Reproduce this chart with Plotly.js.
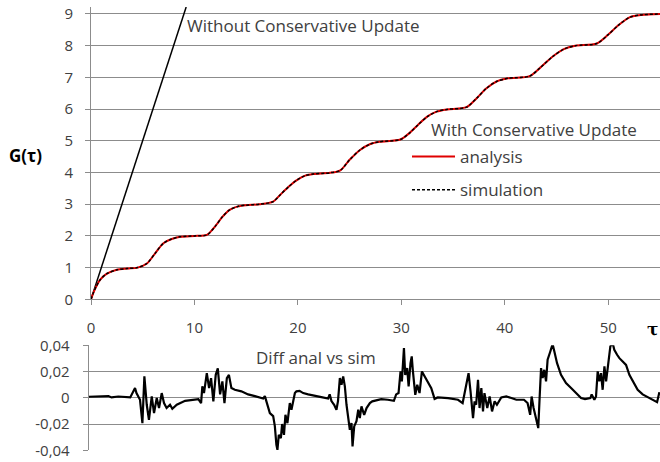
<!DOCTYPE html>
<html>
<head>
<meta charset="utf-8">
<script src="https://cdn.plot.ly/plotly-3.0.1.min.js"></script>
<style>html,body{margin:0;padding:0;background:#fff;}#chart{width:660px;height:462px;}</style>
</head>
<body>
<div id="chart"></div>
<script>
// Without conservative update (straight line)
const tauWithout = [0, 9.2];
const gWithout = [0, 9.22];

// With conservative update: analysis / simulation (indistinguishable at this scale)
const tauCU = [0, 0.2, 0.5, 0.87, 1.5, 2.5, 3.5, 4.5, 5.4, 6.2, 7.0, 7.8, 8.6, 10.0, 11.2, 12.0, 12.7, 13.4, 14.2, 15.0, 16.3, 17.6, 18.3, 19.1, 19.9, 20.7, 21.5, 23.1, 24.1, 25.0, 26.0, 27.0, 27.9, 29.9, 30.8, 31.6, 32.5, 33.4, 34.4, 36.3, 37.3, 38.2, 39.2, 40.3, 42.4, 43.4, 44.6, 45.7, 46.8, 48.9, 50.0, 51.0, 52.1, 53.2, 55.0];
const gAnalysis = [0, 0.18, 0.4, 0.61, 0.8, 0.93, 0.97, 1.0, 1.13, 1.45, 1.77, 1.9, 1.97, 2.0, 2.03, 2.3, 2.6, 2.82, 2.93, 2.97, 3.0, 3.08, 3.3, 3.55, 3.76, 3.9, 3.95, 3.99, 4.07, 4.4, 4.71, 4.9, 4.97, 5.04, 5.25, 5.5, 5.76, 5.92, 5.99, 6.06, 6.35, 6.65, 6.87, 6.97, 7.04, 7.3, 7.65, 7.89, 8.0, 8.07, 8.35, 8.65, 8.9, 8.97, 9.0];
const gSimulation = [0, 0.18, 0.4, 0.61, 0.8, 0.93, 0.97, 1.0, 1.13, 1.45, 1.77, 1.9, 1.97, 2.0, 2.03, 2.3, 2.6, 2.82, 2.93, 2.97, 3.0, 3.08, 3.3, 3.55, 3.76, 3.9, 3.95, 3.99, 4.07, 4.4, 4.71, 4.9, 4.97, 5.04, 5.25, 5.5, 5.76, 5.92, 5.99, 6.06, 6.35, 6.65, 6.87, 6.97, 7.04, 7.3, 7.65, 7.89, 8.0, 8.07, 8.35, 8.65, 8.9, 8.97, 9.0];

// Difference analysis vs simulation
const tauDiff = [0.0, 0.9, 1.9, 2.2, 2.85, 4.0, 4.3, 4.46, 4.6, 4.94, 5.17, 5.36, 5.59, 5.8, 6.07, 6.29, 6.55, 6.77, 7.03, 7.25, 7.5, 7.83, 8.05, 8.48, 9.28, 10.56, 10.82, 10.94, 11.1, 11.37, 11.59, 11.78, 12.0, 12.23, 12.43, 12.65, 12.87, 13.07, 13.3, 13.5, 13.74, 14.07, 14.7, 15.35, 16.0, 16.8, 16.96, 17.2, 17.44, 17.76, 17.92, 18.07, 18.17, 18.3, 18.5, 18.62, 18.8, 18.94, 19.13, 19.36, 19.52, 19.85, 20.0, 20.3, 20.65, 21.13, 21.77, 22.4, 23.05, 23.2, 23.37, 23.63, 23.85, 24.0, 24.18, 24.34, 24.5, 24.66, 24.82, 24.98, 25.14, 25.3, 25.4, 25.56, 25.78, 25.95, 26.1, 26.26, 26.52, 26.75, 27.07, 27.3, 27.5, 28.16, 28.8, 29.38, 29.6, 29.83, 30.02, 30.15, 30.35, 30.47, 30.66, 30.8, 30.98, 31.1, 31.2, 31.44, 31.63, 31.85, 32.08, 32.27, 32.66, 32.98, 33.3, 33.6, 34.6, 35.55, 36.0, 36.35, 36.57, 36.76, 37.0, 37.15, 37.3, 37.48, 37.63, 37.8, 37.96, 38.1, 38.37, 38.6, 38.83, 39.08, 39.3, 39.72, 40.2, 40.69, 41.17, 41.9, 42.25, 42.5, 42.64, 42.83, 43.06, 43.28, 43.41, 43.55, 43.7, 43.86, 44.03, 44.18, 44.44, 44.66, 44.83, 45.09, 45.47, 45.95, 46.44, 46.92, 47.4, 47.78, 48.3, 48.42, 48.68, 48.84, 49.0, 49.16, 49.32, 49.48, 49.65, 49.81, 50.03, 50.22, 50.44, 50.6, 50.87, 51.09, 51.41, 51.73, 52.05, 52.37, 52.85, 53.33, 53.82, 54.3, 54.72, 54.94];
const diffValues = [0.0008, 0.0013, 0.0013, 0.0003, 0.001, 0.0003, 0.0049, 0.0074, 0.0036, -0.0015, -0.0193, 0.0163, -0.0053, -0.0168, 0.001, -0.0117, -0.0002, -0.0078, 0.0036, -0.004, -0.0078, -0.0053, -0.0084, -0.0053, -0.0023, -0.001, -0.004, 0.0087, 0.0036, 0.0188, 0.0074, 0.015, -0.0027, 0.0175, 0.0224, 0.0026, 0.0125, -0.004, 0.015, 0.0174, 0.0074, 0.0061, 0.0049, 0.0026, 0.0013, -0.0005, 0.0013, -0.0053, -0.0117, -0.014, -0.0216, -0.0358, -0.0396, -0.0282, -0.0307, -0.02, -0.0282, -0.013, -0.0193, -0.004, -0.0091, 0.0036, 0.0049, 0.0053, 0.0036, 0.0026, 0.0013, 0.0005, -0.0005, 0.0026, -0.0025, -0.0053, -0.0091, -0.0025, 0.015, 0.0099, 0.0163, 0.0087, -0.0053, -0.0168, -0.0244, -0.0193, -0.037, -0.0218, -0.0178, -0.0091, -0.0155, -0.0066, -0.013, -0.0078, -0.004, -0.0027, -0.0023, -0.001, -0.0015, -0.0023, 0.0026, 0.0036, 0.0201, 0.0125, 0.0379, 0.0175, 0.0226, 0.0087, 0.0264, 0.0315, 0.0213, 0.0023, 0.0099, 0.0036, 0.0201, 0.0175, 0.0125, 0.0074, -0.0008, 0.0003, -0.0002, -0.0015, -0.004, 0.0099, 0.0188, 0.0049, -0.0155, -0.0027, -0.0053, 0.0137, -0.0078, 0.0074, -0.0104, 0.0036, -0.0078, 0.001, -0.0104, -0.0027, -0.0053, 0.0003, 0.001, -0.0002, -0.0015, -0.0015, -0.004, -0.013, 0.001, -0.0078, -0.0155, -0.0231, -0.0002, 0.0226, 0.015, 0.0213, 0.0125, 0.029, 0.0353, 0.0409, 0.0353, 0.0264, 0.0175, 0.0112, 0.0074, 0.0036, -0.0002, -0.001, -0.0002, 0.0026, -0.0015, 0.001, 0.0201, 0.0125, 0.0188, 0.0061, 0.0239, 0.0125, 0.028, 0.0392, 0.0417, 0.0366, 0.0328, 0.0302, 0.0277, 0.0251, 0.0175, 0.0125, 0.0061, 0.0026, 0.0003, -0.0015, -0.0033, 0.0043];

// Tick labels
const topXTicks = [0, 10, 20, 30, 40, 50];
const topYTicks = [0, 1, 2, 3, 4, 5, 6, 7, 8, 9];
const diffTickVals = [-0.04, -0.02, 0, 0.02, 0.04];
const diffTickText = ['-0,04', '-0,02', '0', '0,02', '0,04'];

const FONT = 'Open Sans, sans-serif';
const TXT = '#404040';
const GRID = '#8c8c8c';

const traces = [
  {x: tauWithout, y: gWithout, xaxis: 'x', yaxis: 'y', mode: 'lines',
   line: {color: '#000000', width: 1.5}, showlegend: false, hoverinfo: 'skip'},
  {x: tauCU, y: gAnalysis, xaxis: 'x', yaxis: 'y', mode: 'lines', name: 'analysis',
   legendgroup: 'a', line: {color: '#e00000', width: 2, shape: 'spline', smoothing: 0.8}},
  {x: tauCU, y: gSimulation, xaxis: 'x', yaxis: 'y', mode: 'lines', name: 'simulation',
   legendgroup: 'b', line: {color: '#000000', width: 1.5, dash: '3px,2px', shape: 'spline', smoothing: 0.8}},
  {x: tauDiff, y: diffValues, xaxis: 'x2', yaxis: 'y2', mode: 'lines',
   line: {color: '#000000', width: 2.2}, showlegend: false, hoverinfo: 'skip'}
];

const H = 462, W = 660;
const layout = {
  width: W, height: H,
  margin: {l: 0, r: 0, t: 0, b: 0},
  paper_bgcolor: '#ffffff', plot_bgcolor: '#ffffff',
  font: {family: FONT, size: 15, color: TXT},
  showlegend: true,
  legend: {x: 407 / W, y: (H - 139) / H, xanchor: 'left', yanchor: 'top',
           bgcolor: 'rgba(0,0,0,0)', borderwidth: 0, itemwidth: 43,
           tracegroupgap: 8, font: {family: FONT, size: 17, color: TXT}},
  xaxis: {domain: [91 / W, 1], range: [0, 55], anchor: 'y',
          tickvals: topXTicks, ticks: 'outside', ticklen: 5, tickcolor: GRID,
          ticklabelstandoff: 10,
          showline: true, linecolor: GRID, linewidth: 1, showgrid: false, zeroline: false,
          tickfont: {family: FONT, size: 15, color: TXT}},
  yaxis: {domain: [(H - 299.3) / H, (H - 7) / H], range: [0, 9.22], anchor: 'x',
          tickvals: topYTicks, ticks: 'outside', ticklen: 5, tickcolor: GRID,
          ticklabelstandoff: 9,
          showline: true, linecolor: GRID, linewidth: 1,
          showgrid: true, gridcolor: GRID, gridwidth: 1, zeroline: false,
          tickfont: {family: FONT, size: 15, color: TXT}},
  xaxis2: {domain: [88.7 / W, 1], range: [0, 55], anchor: 'y2',
           showticklabels: false, ticks: '', showline: false, showgrid: false, zeroline: false},
  yaxis2: {domain: [(H - 450.3) / H, (H - 345.3) / H], range: [-0.04, 0.04], anchor: 'x2',
           tickvals: diffTickVals, ticktext: diffTickText, ticks: 'outside', ticklen: 5, tickcolor: GRID,
           ticklabelstandoff: 10,
           showline: true, linecolor: GRID, linewidth: 1,
           showgrid: true, gridcolor: GRID, gridwidth: 1, zeroline: false,
           tickfont: {family: FONT, size: 15, color: TXT}},
  annotations: [
    {text: 'Without Conservative Update', xref: 'x', yref: 'y', x: 9.1, y: 8.64,
     xanchor: 'left', yanchor: 'middle', showarrow: false, font: {family: FONT, size: 17, color: TXT}},
    {text: 'With Conservative Update', xref: 'x', yref: 'y', x: 32.7, y: 5.36,
     xanchor: 'left', yanchor: 'middle', showarrow: false, font: {family: FONT, size: 17, color: TXT}},
    {text: '<b>G(τ)</b>', xref: 'paper', yref: 'paper', x: 25 / W, y: (H - 155) / H,
     xanchor: 'center', yanchor: 'middle', showarrow: false, font: {family: FONT, size: 17, color: '#000000'}},
    {text: '<b>τ</b>', xref: 'paper', yref: 'paper', x: 652 / W, y: (H - 329) / H,
     xanchor: 'center', yanchor: 'middle', showarrow: false, font: {family: 'DejaVu Serif, serif', size: 17, color: '#000000'}},
    {text: 'Diff anal vs sim', xref: 'x2', yref: 'y2', x: 15.9, y: 0.031,
     xanchor: 'left', yanchor: 'middle', showarrow: false, font: {family: FONT, size: 17, color: TXT}}
  ]
};

Plotly.newPlot('chart', traces, layout, {displayModeBar: false, staticPlot: true});
</script>
</body>
</html>
